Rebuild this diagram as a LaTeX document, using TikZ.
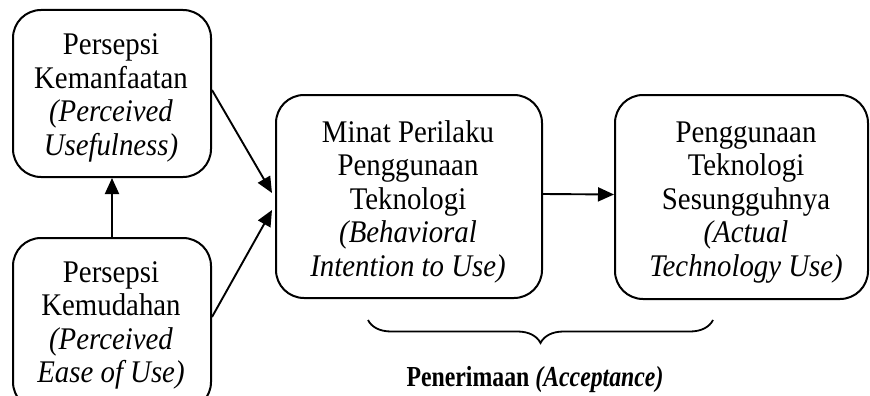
\documentclass[tikz,border=0pt]{standalone}
\usepackage{fontspec}
\setmainfont[FakeStretch=0.915]{Liberation Serif}
\newfontfamily\labelfont[FakeStretch=0.82]{Liberation Serif}
\usetikzlibrary{arrows.meta,decorations.pathreplacing,calc}

\tikzset{
  box/.style={draw, rectangle, line width=2pt, rounded corners=28pt, inner sep=0pt},
  txt/.style={anchor=base, inner sep=0pt, font=\fontsize{31.5}{33.5}\selectfont},
  arr/.style={line width=1.9pt, -{Triangle[length=16pt,width=14pt]}},
  bracepath/.style={line width=1.8pt, decorate, decoration={brace, mirror, amplitude=23pt}},
}
\newcommand{\stackedtext}[1]{\begin{tabular}[t]{@{}c@{}}#1\end{tabular}}

\begin{document}
\begin{tikzpicture}[x=1pt,y=-1pt]
\clip (0,0) rectangle (870,396);

% boxes
\node[box, minimum width=198pt, minimum height=167pt] (b1) at (112,93.5) {};
\node[box, minimum width=198pt, minimum height=172pt] (b2) at (112,324) {};
\node[box, minimum width=266pt, minimum height=203pt] (b3) at (409,196.5) {};
\node[box, minimum width=253pt, minimum height=204pt] (b4) at (741.5,197) {};

% box texts
\node[txt] (t1) at (111,55) {\stackedtext{Persepsi\\Kemanfaatan\\\itshape(Perceived\\\itshape Usefulness)}};
\node[txt] (t2) at (111,282) {\stackedtext{Persepsi\\Kemudahan\\\itshape(Perceived\\\itshape Ease of Use)}};
\node[txt] (t3) at (408,142) {\stackedtext{Minat Perilaku\\Penggunaan\\Teknologi\\\itshape(Behavioral\\\itshape Intention to Use)}};
\node[txt] (t4) at (746,142) {\stackedtext{Penggunaan\\Teknologi\\Sesungguhnya\\\itshape(Actual\\\itshape Technology Use)}};

% connectors
\draw[arr] ([yshift=3.5pt]b1.east) -- ([shift={(-3pt,3.5pt)}]b3.west);
\draw[arr] ([yshift=7pt]b2.east) -- ([shift={(-3pt,-13.5pt)}]b3.west);
\draw[arr] (b2.north) -- (b1.south);
\draw[arr] ([yshift=2.5pt]b3.east) -- ([yshift=2.5pt]b4.west);

% brace and its label
\coordinate (brL) at (368,320);
\coordinate (brR) at (713,320);
\draw[bracepath] (brL) -- (brR);
\node[anchor=base, inner sep=0pt] (lbl) at (535,386)
  {\labelfont\fontsize{29}{30}\selectfont\bfseries Penerimaan \textit{(Acceptance)}};
\end{tikzpicture}
\end{document}
